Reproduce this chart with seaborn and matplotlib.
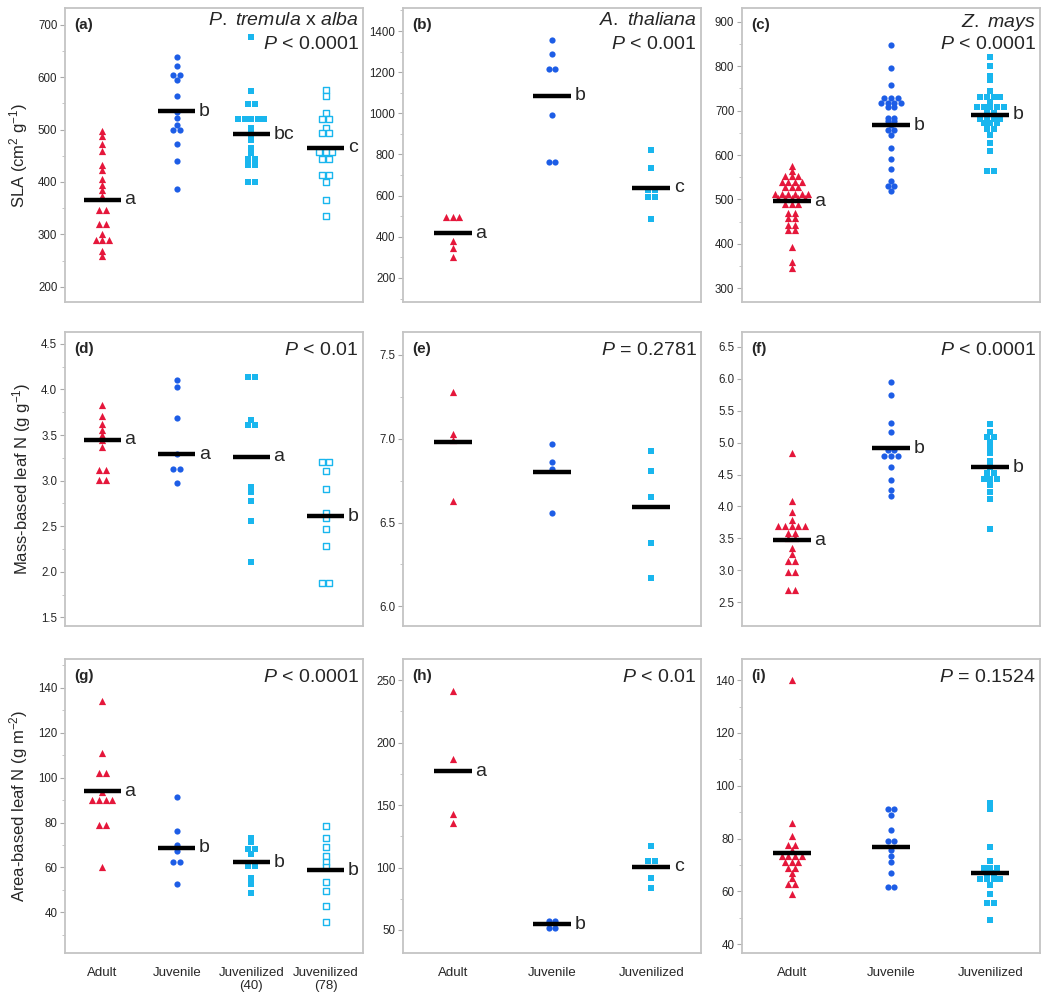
import numpy as np
import pandas as pd
import seaborn as sns
import matplotlib.pyplot as plt
from matplotlib.ticker import MultipleLocator, NullLocator

RED = '#E5173B'
BLUE = '#1D5DE6'
CYAN = '#19B6EE'

cats4 = ['Adult', 'Juvenile', 'Juvenilized\n(40)', 'Juvenilized\n(78)']
cats3 = ['Adult', 'Juvenile', 'Juvenilized']

# (a) SLA, P. tremula x alba
a_adult = [497, 487, 473, 460, 433, 422, 405, 395, 384, 374, 347, 347, 319, 319, 300, 290, 290, 290, 268, 258]
a_juv = [638, 622, 605, 605, 594, 565, 533, 522, 509, 499, 499, 473, 441, 387]
a_j40 = [676, 574, 549, 549, 521, 521, 521, 521, 521, 503, 491, 481, 465, 455, 443, 443, 432, 432, 400, 400]
a_j78 = [576, 565, 532, 520, 520, 503, 494, 494, 458, 458, 458, 444, 444, 414, 414, 400, 366, 335]
a_means = [366.5, 535, 491, 465]
a_letters = ['a', 'b', 'bc', 'c']

# (b) SLA, A. thaliana
b_adult = [494, 494, 494, 381, 345, 302]
b_juv = [1358, 1287, 1216, 1216, 990, 762, 762]
b_juvz = [824, 733, 625, 625, 593, 593, 488]
b_means = [418, 1085, 639]
b_letters = ['a', 'b', 'c']

# (c) SLA, Z. mays
c_adult = [576, 563, 552, 552, 552, 540, 540, 540, 540, 528, 528, 528,
           513, 513, 513, 513, 513, 513, 503, 503, 503, 503, 503,
           490, 490, 490, 470, 470, 459, 459, 443, 443, 432, 432, 392, 358, 345]
c_juv = [847, 796, 758, 729, 729, 729, 718, 718, 718, 718, 707, 707, 684, 684,
         677, 677, 667, 657, 657, 646, 615, 592, 569, 542, 531, 531, 518]
c_juvz = [821, 801, 779, 768, 744, 730, 730, 730, 730, 719, 707, 707, 707, 707, 707,
          695, 695, 682, 682, 682, 682, 671, 671, 671, 658, 658, 646, 628, 608, 563, 563]
c_means = [496, 667, 691]
c_letters = ['a', 'b', 'b']

# (d) mass-based leaf N, P. tremula x alba
d_adult = [3.83, 3.71, 3.62, 3.56, 3.50, 3.45, 3.37, 3.12, 3.12, 3.01, 3.01]
d_juv = [4.10, 4.03, 3.69, 3.29, 3.13, 3.13, 2.97]
d_j40 = [4.14, 4.14, 3.66, 3.61, 3.61, 2.93, 2.87, 2.78, 2.56, 2.11]
d_j78 = [3.20, 3.20, 3.10, 2.91, 2.65, 2.59, 2.47, 2.28, 1.88, 1.88]
d_means = [3.45, 3.29, 3.26, 2.61]
d_letters = ['a', 'a', 'a', 'b']

# (e) mass-based leaf N, A. thaliana
e_adult = [7.28, 7.03, 6.99, 6.63]
e_juv = [6.97, 6.86, 6.82, 6.56]
e_juvz = [6.93, 6.81, 6.65, 6.38, 6.17]
e_means = [6.98, 6.80, 6.59]
e_letters = ['', '', '']

# (f) mass-based leaf N, Z. mays
f_adult = [4.83, 4.08, 3.92, 3.79, 3.69, 3.69, 3.69, 3.69, 3.69, 3.59, 3.59,
           3.51, 3.51, 3.35, 3.26, 3.15, 3.15, 2.97, 2.97, 2.69, 2.69]
f_juv = [5.94, 5.74, 5.30, 5.17, 4.89, 4.89, 4.79, 4.79, 4.79, 4.61, 4.41, 4.26, 4.17]
f_juvz = [5.29, 5.17, 5.09, 5.09, 5.01, 4.93, 4.83, 4.71, 4.61, 4.52, 4.52,
          4.43, 4.43, 4.43, 4.34, 4.23, 4.11, 3.64]
f_means = [3.47, 4.91, 4.61]
f_letters = ['a', 'b', 'b']

# (g) area-based leaf N, P. tremula x alba
g_adult = [134, 111, 102, 102, 93.5, 90, 90, 90, 90, 79, 79, 60]
g_juv = [91.5, 76.4, 70.0, 67.3, 62.6, 62.6, 52.6]
g_j40 = [73.2, 71.2, 68, 68, 65.8, 60.6, 60.6, 55.4, 52.5, 48.8]
g_j78 = [78.6, 73, 69, 65, 62.3, 60, 53.6, 49.6, 43, 35.5]
g_means = [94.0, 68.8, 62.3, 58.8]
g_letters = ['a', 'b', 'b', 'b']

# (h) area-based leaf N, A. thaliana
h_adult = [241.5, 186.5, 142.5, 135.9]
h_juv = [57.5, 57.5, 51.5, 51.5]
h_juvz = [117.2, 105.2, 105.2, 91.9, 83.3]
h_means = [177, 54.5, 100.7]
h_letters = ['a', 'b', 'c']

# (i) area-based leaf N, Z. mays
i_adult = [140, 85.8, 81, 77.6, 77.6, 75.7, 73.4, 73.4, 73.4, 73.4, 71.3, 71.3, 71.3,
           69, 69, 66.9, 65, 63, 63, 58.9]
i_juv = [91.4, 91.4, 88.9, 83.3, 79.1, 79.1, 75.6, 73.4, 71.3, 67.1, 61.8, 61.8]
i_juvz = [93.6, 91.4, 76.7, 71.5, 68.8, 68.8, 68.8, 66.9, 66.9, 64.6, 64.6, 64.6, 64.6,
          62.4, 58.9, 55.5, 55.5, 49.2]
i_means = [74.7, 77.0, 67.1]
i_letters = ['', '', '']

sns.set_style('white')
plt.rcParams['font.family'] = ['Liberation Sans', 'DejaVu Sans']
plt.rcParams['mathtext.fontset'] = 'custom'
plt.rcParams['mathtext.rm'] = 'Liberation Sans'
plt.rcParams['mathtext.it'] = 'Liberation Sans:italic'

# marker, colour, hollow, area (pt^2)
STYLES = [('^', RED, False, 27), ('o', BLUE, False, 20),
          ('s', CYAN, False, 15), ('s', CYAN, True, 13)]

AX_W = 298  # axes width in pixels


def draw_panel(ax, groups, cats, means, letters, ylim, major, minor,
               tag, ptext, species=None, ylabel=None, bottom=False):
    ncat = len(cats)
    step = 6.6 / (AX_W / ncat)  # side-by-side spacing for tied values
    for k, vals in enumerate(groups):
        marker, col, hollow, area = STYLES[k]
        df = pd.DataFrame({'value': vals})
        n = df.groupby('value')['value'].transform('size')
        j = df.groupby('value').cumcount()
        df['pos'] = k + (j - (n - 1) / 2) * step
        if hollow:
            kw = dict(color='white', edgecolor=col, linewidth=1.0)
        else:
            kw = dict(color=col, linewidth=0)
        sns.scatterplot(data=df, x='pos', y='value', marker=marker, s=area,
                        ax=ax, zorder=3, legend=False, **kw)

    xs = np.arange(ncat)
    hw = 0.25 if ncat == 4 else 0.19
    ax.hlines(means, xs - hw, xs + hw, color='black', lw=3.2, zorder=5)
    for x, m, lab in zip(xs, means, letters):
        if lab:
            ax.annotate(lab, (x + hw, m), xytext=(2.5, 0), textcoords='offset points',
                        ha='left', va='center', fontsize=14)

    ax.set_xlim(-0.5, ncat - 0.5)
    ax.set_ylim(*ylim)
    ax.yaxis.set_major_locator(MultipleLocator(major))
    if minor:
        ax.yaxis.set_minor_locator(MultipleLocator(minor))
    else:
        ax.yaxis.set_minor_locator(NullLocator())
    ax.tick_params(axis='y', which='major', length=3.5, width=0.8, color='#AAAAAA',
                   labelsize=8.3, pad=2, left=True)
    ax.tick_params(axis='y', which='minor', length=2.5, width=0.6, color='#BBBBBB', left=True)
    ax.set_xlabel('')
    ax.set_ylabel(ylabel if ylabel else '', fontsize=12, labelpad=6)
    if bottom:
        ax.set_xticks(xs)
        ax.set_xticklabels(cats, fontsize=9.5, linespacing=1.1)
        ax.tick_params(axis='x', length=0, pad=10)
    else:
        ax.set_xticks([])
    for sp in ax.spines.values():
        sp.set_color('#C4C4C4')
        sp.set_linewidth(1.3)

    ax.text(0.03, 0.965, tag, transform=ax.transAxes, ha='left', va='top',
            fontsize=11, fontweight='bold')
    if species:
        ax.text(0.985, 0.985, species, transform=ax.transAxes, ha='right', va='top', fontsize=14)
        ax.text(0.985, 0.905, ptext, transform=ax.transAxes, ha='right', va='top', fontsize=14)
    else:
        ax.text(0.985, 0.965, ptext, transform=ax.transAxes, ha='right', va='top', fontsize=14)


fig = plt.figure(figsize=(10.5, 10.02), dpi=100)
W, H = 1050, 1002
lefts = [65, 403, 742]
tops = [8, 332, 659]
ah = 294
axes = [[fig.add_axes([l / W, 1 - (t + ah) / H, AX_W / W, ah / H]) for l in lefts] for t in tops]

draw_panel(axes[0][0], [a_adult, a_juv, a_j40, a_j78], cats4, a_means, a_letters,
           (171, 732), 100, 50, '(a)', r'$P$ < 0.0001',
           species=r'$P.\ tremula$ x $alba$', ylabel=r'SLA (cm$^{2}$ g$^{-1}$)')
draw_panel(axes[0][1], [b_adult, b_juv, b_juvz], cats3, b_means, b_letters,
           (83, 1512), 200, 100, '(b)', r'$P$ < 0.001', species=r'$A.\ thaliana$')
draw_panel(axes[0][2], [c_adult, c_juv, c_juvz], cats3, c_means, c_letters,
           (269, 931), 100, 50, '(c)', r'$P$ < 0.0001', species=r'$Z.\ mays$')

draw_panel(axes[1][0], [d_adult, d_juv, d_j40, d_j78], cats4, d_means, d_letters,
           (1.405, 4.63), 0.5, 0.25, '(d)', r'$P$ < 0.01',
           ylabel=r'Mass-based leaf N (g g$^{-1}$)')
draw_panel(axes[1][1], [e_adult, e_juv, e_juvz], cats3, e_means, e_letters,
           (5.883, 7.637), 0.5, 0.25, '(e)', r'$P$ = 0.2781')
draw_panel(axes[1][2], [f_adult, f_juv, f_juvz], cats3, f_means, f_letters,
           (2.13, 6.73), 0.5, None, '(f)', r'$P$ < 0.0001')

draw_panel(axes[2][0], [g_adult, g_juv, g_j40, g_j78], cats4, g_means, g_letters,
           (21.9, 152.8), 20, 10, '(g)', r'$P$ < 0.0001',
           ylabel=r'Area-based leaf N (g m$^{-2}$)', bottom=True)
draw_panel(axes[2][1], [h_adult, h_juv, h_juvz], cats3, h_means, h_letters,
           (31.6, 266.8), 50, 25, '(h)', r'$P$ < 0.01', bottom=True)
draw_panel(axes[2][2], [i_adult, i_juv, i_juvz], cats3, i_means, i_letters,
           (36.7, 148), 20, 10, '(i)', r'$P$ = 0.1524', bottom=True)

fig.savefig('out.png', dpi=100)
